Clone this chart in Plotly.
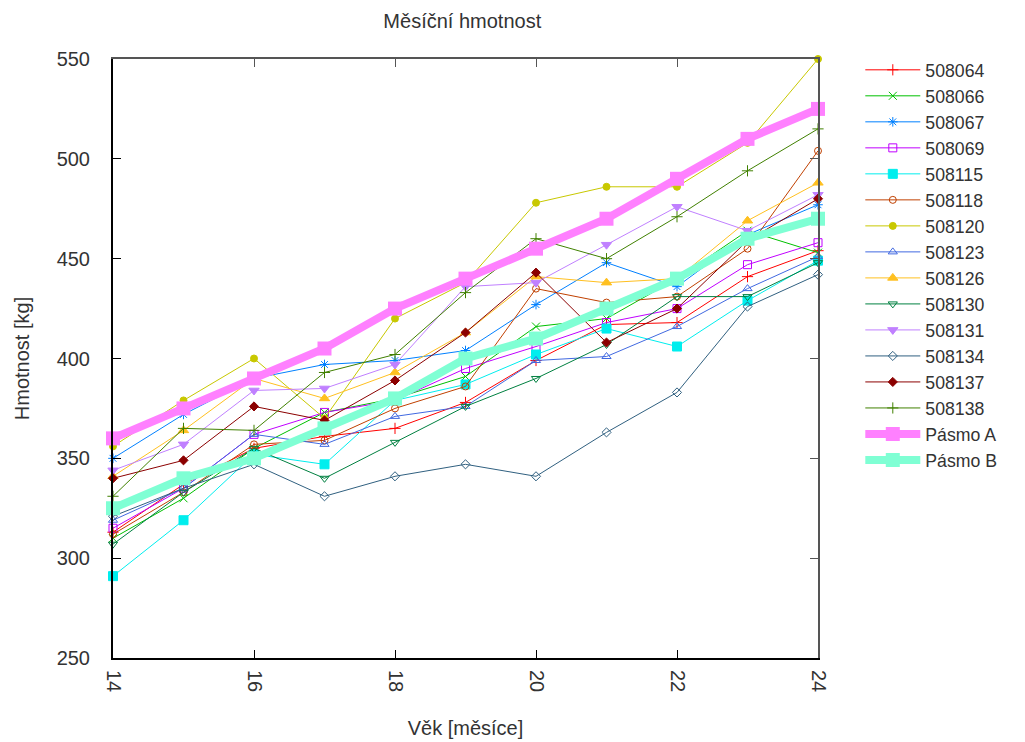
import plotly.graph_objects as go

months = [14, 15, 16, 17, 18, 19, 20, 21, 22, 23, 24]

s508064 = [313, 337, 355, 361, 365, 378, 399, 417, 418, 441, 454]
s508066 = [310, 330, 355, 373, 380, 391, 416, 420, 440, 464, 453]
s508067 = [350, 372, 390, 397, 399, 404, 427, 448, 436, 462, 477]
s508069 = [315, 335, 362, 373, 379, 395, 406, 418, 425, 447, 458]
s508115 = [291, 319, 352, 347, 379, 387, 402, 415, 406, 429, 449]
s508118 = [312, 333, 357, 359, 375, 386, 435, 428, 431, 455, 504]
s508120 = [356, 379, 400, 370, 420, 438, 478, 486, 486, 508, 550]
s508123 = [319, 335, 362, 357, 371, 376, 399, 401, 416, 435, 451]
s508126 = [341, 364, 390, 380, 393, 413, 441, 438, 440, 469, 488]
s508130 = [307, 333, 355, 340, 358, 376, 390, 407, 431, 431, 448]
s508131 = [344, 357, 384, 385, 397, 436, 438, 457, 476, 464, 482]
s508134 = [321, 335, 347, 331, 341, 347, 341, 363, 383, 426, 442]
s508137 = [340, 349, 376, 369, 389, 413, 443, 408, 425, 459, 480]
s508138 = [331, 365, 364, 393, 402, 433, 460, 450, 471, 494, 515]
pasmo_a = [360, 375, 390, 405, 425, 440, 455, 470, 490, 510, 525]
pasmo_b = [325, 340, 350, 365, 380, 400, 410, 425, 440, 460, 470]

series = [
    ("508064", s508064, "#ff0000", "cross-thin-open"),
    ("508066", s508066, "#00c000", "x-thin-open"),
    ("508067", s508067, "#0080ff", "asterisk-open"),
    ("508069", s508069, "#c000ff", "square-open"),
    ("508115", s508115, "#00eeee", "square"),
    ("508118", s508118, "#c04000", "circle-open"),
    ("508120", s508120, "#c8c800", "circle"),
    ("508123", s508123, "#4169e1", "triangle-up-open"),
    ("508126", s508126, "#ffc020", "triangle-up"),
    ("508130", s508130, "#008040", "triangle-down-open"),
    ("508131", s508131, "#c080ff", "triangle-down"),
    ("508134", s508134, "#306080", "diamond-open"),
    ("508137", s508137, "#8b0000", "diamond"),
    ("508138", s508138, "#408000", "cross-thin-open"),
]

font_family = "Liberation Sans, Arial, sans-serif"
txt_col = "#333333"

fig = go.Figure()
for name, vals, col, sym in series:
    size = 9 if sym in ("square", "triangle-up", "triangle-down") else 8
    if sym in ("circle", "diamond", "circle-open", "diamond-open"):
        size = 7
    fig.add_trace(go.Scatter(
        x=months, y=vals, name=name, mode="lines+markers",
        line=dict(color=col, width=1),
        marker=dict(symbol=sym, size=size, color=col, line=dict(color=col, width=1)),
        cliponaxis=False,
    ))

fig.add_trace(go.Scatter(
    x=months, y=pasmo_a, name="Pásmo A", mode="lines+markers",
    line=dict(color="#ff80ff", width=8),
    marker=dict(symbol="square", size=14, color="#ff80ff"),
    cliponaxis=False,
))
fig.add_trace(go.Scatter(
    x=months, y=pasmo_b, name="Pásmo B", mode="lines+markers",
    line=dict(color="#7fffd4", width=8),
    marker=dict(symbol="square", size=14, color="#7fffd4"),
    cliponaxis=False,
))

# mirror axes (top / right) in grey
fig.add_trace(go.Scatter(x=[None], y=[None], xaxis="x2", yaxis="y2",
                         showlegend=False, hoverinfo="skip"))

fig.update_layout(
    width=1025, height=742,
    margin=dict(l=113, r=207, t=59, b=84),
    paper_bgcolor="white", plot_bgcolor="white",
    font=dict(family=font_family, size=20, color=txt_col),
    title=dict(text="Měsíční hmotnost", x=0.451, xanchor="center",
               y=0.972, yanchor="middle", font=dict(size=20, color=txt_col)),
    xaxis=dict(range=[14, 24], tickvals=[14, 16, 18, 20, 22, 24],
               ticks="inside", ticklen=8, tickcolor="#000000",
               showline=True, linecolor="#000000", linewidth=2,
               showgrid=False, zeroline=False, tickangle=90,
               ticklabelstandoff=6, automargin=False,
               title=dict(text="Věk [měsíce]", standoff=30,
                          font=dict(size=20))),
    yaxis=dict(range=[250, 550], tickvals=[250, 300, 350, 400, 450, 500, 550],
               ticks="inside", ticklen=8, tickcolor="#000000",
               showline=True, linecolor="#000000", linewidth=2,
               showgrid=False, zeroline=False, automargin=False,
               ticklabelstandoff=17,
               title=dict(text="Hmotnost [kg]", standoff=22,
                          font=dict(size=20))),
    xaxis2=dict(range=[14, 24], tickvals=[14, 16, 18, 20, 22, 24],
                overlaying="x", side="top", anchor="y",
                ticks="inside", ticklen=8, tickcolor="#555555",
                showline=True, linecolor="#555555", linewidth=2,
                showticklabels=False, showgrid=False, zeroline=False),
    yaxis2=dict(range=[250, 550], tickvals=[250, 300, 350, 400, 450, 500, 550],
                overlaying="y", side="right", anchor="x",
                ticks="inside", ticklen=8, tickcolor="#555555",
                showline=True, linecolor="#555555", linewidth=2,
                showticklabels=False, showgrid=False, zeroline=False),
    legend=dict(x=1.06, xanchor="left", y=1.012, yanchor="top",
                xref="paper", yref="paper",
                font=dict(size=17.7, color=txt_col),
                bgcolor="rgba(0,0,0,0)", borderwidth=0,
                tracegroupgap=0, itemwidth=55, maxheight=700),
    showlegend=True,
)

fig.write_html("out.html")
